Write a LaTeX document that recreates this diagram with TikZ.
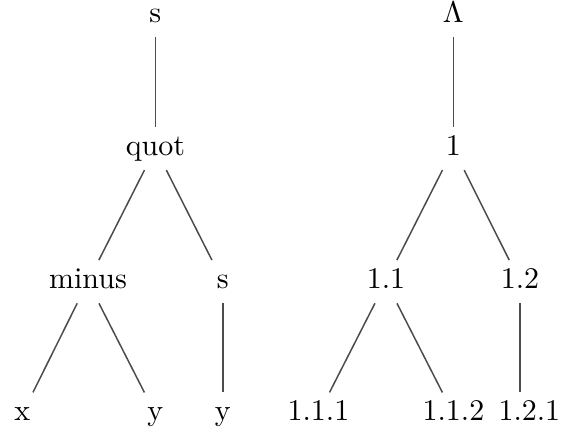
\documentclass[tikz,border=0pt]{standalone}
\begin{document}
\begin{tikzpicture}[
  term/.style={anchor=base, text height=6.8pt, text depth=2.2pt,
               inner sep=2.5pt, minimum width=1cm},
  branch/.style={draw=black!70, line width=0.5pt}
]
  \useasboundingbox (0, 0) rectangle (6.57, 5.11);

  % Left tree
  \node[term] (s) at (1.82, 4.85) {s};
  \node[term] (quot) at (1.82, 3.29) {quot};
  \node[term] (minus) at (1.03, 1.73) {minus};
  \node[term] (s2) at (2.61, 1.73) {s};
  \node[term] (x) at (0.26, 0.18) {x};
  \node[term] (y) at (1.82, 0.18) {y};
  \node[term] (y2) at (2.61, 0.18) {y};
  \draw[branch] (s) -- (quot);
  \draw[branch] (quot) -- (minus);
  \draw[branch] (quot) -- (s2);
  \draw[branch] (minus) -- (x);
  \draw[branch] (minus) -- (y);
  \draw[branch] (s2) -- (y2);

  % Right tree
  \node[term] (root) at (5.31, 4.85) {$\Lambda$};
  \node[term] (n1) at (5.31, 3.29) {1};
  \node[term] (n11) at (4.52, 1.73) {1.1};
  \node[term] (n12) at (6.09, 1.73) {1.2};
  \node[term] (n111) at (3.73, 0.18) {1.1.1};
  \node[term] (n112) at (5.31, 0.18) {1.1.2};
  \node[term] (n121) at (6.20, 0.18) {1.2.1};
  \draw[branch] (root) -- (n1);
  \draw[branch] (n1) -- (n11);
  \draw[branch] (n1) -- (n12);
  \draw[branch] (n11) -- (n111);
  \draw[branch] (n11) -- (n112);
  \draw[branch] (n12) -- (n12 |- n121.north);
\end{tikzpicture}
\end{document}
